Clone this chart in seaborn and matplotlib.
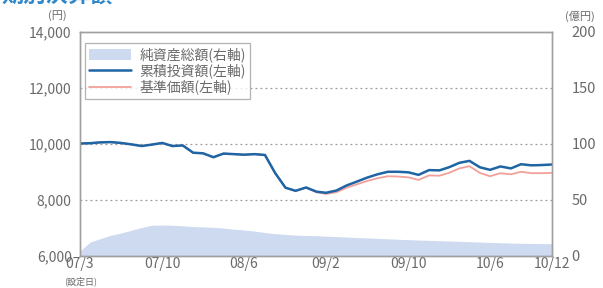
import pandas as pd
import matplotlib.pyplot as plt
from matplotlib.patches import Patch
from matplotlib.lines import Line2D
import seaborn as sns

# --- data (monthly) ---
dates = [pd.Timestamp("2007-03-01")] + list(pd.date_range("2007-03-31", "2010-12-31", freq="ME"))

cum_invest = [10000, 10010, 10040, 10050, 10020, 9970, 9910, 9960, 10020, 9910,
              9930, 9670, 9650, 9510, 9640, 9620, 9600, 9620, 9590, 8950,
              8420, 8310, 8430, 8280, 8240, 8320, 8500, 8640, 8780, 8900,
              8990, 8990, 8970, 8880, 9050, 9040, 9150, 9310, 9380, 9150,
              9060, 9180, 9110, 9260, 9220, 9230, 9250]

nav = [10000, 10010, 10040, 10050, 10020, 9970, 9910, 9960, 10020, 9910,
       9930, 9670, 9650, 9510, 9640, 9620, 9600, 9620, 9590, 8950,
       8420, 8310, 8420, 8260, 8200, 8260, 8420, 8540, 8660, 8760,
       8830, 8820, 8790, 8700, 8860, 8850, 8950, 9110, 9190, 8950,
       8830, 8940, 8900, 8990, 8940, 8940, 8950]

net_assets = [4, 12, 15, 18, 20, 22.5, 25, 27, 27.2, 27,
              26.5, 25.8, 25.5, 25.2, 24.5, 23.5, 22.8, 21.8, 20.5, 19.5,
              18.8, 18.2, 17.8, 17.7, 17.2, 16.9, 16.5, 16.0, 15.7, 15.3,
              14.9, 14.5, 14.1, 13.8, 13.5, 13.2, 12.9, 12.6, 12.3, 12.0,
              11.7, 11.4, 11.1, 10.9, 10.8, 10.6, 10.5]

tick_idx = [0, 8, 16, 24, 32, 40, 46]
tick_labels = ["07/3", "07/10", "08/6", "09/2", "09/10", "10/6", "10/12"]

df = pd.DataFrame({"date": dates, "cum": cum_invest, "nav": nav, "assets": net_assets})

# --- style ---
sns.set_style("white")
plt.rcParams["font.family"] = ["Noto Sans CJK JP", "DejaVu Sans"]

GREY = "#6a6a6a"
EDGE = "#a0a0a0"
BLUE = "#1f64a4"
PINK = "#f2a09a"
AREA = "#cddaf0"

fig = plt.figure(figsize=(6.03, 2.88), dpi=100)
ax = fig.add_axes([80 / 603, 1 - 255.5 / 288, 472 / 603, 224 / 288])
ax2 = ax.twinx()

# area on the right axis, kept behind the lines
ax2.fill_between(df["date"], 0, df["assets"], color=AREA, lw=0)
ax2.set_ylim(0, 200)
ax.set_zorder(ax2.get_zorder() + 1)
ax.patch.set_visible(False)

sns.lineplot(data=df, x="date", y="nav", ax=ax, color=PINK, lw=1.3)
sns.lineplot(data=df, x="date", y="cum", ax=ax, color=BLUE, lw=1.8)

ax.set_ylim(6000, 14000)
ax.set_xlim(dates[0], dates[-1])
ax.set_yticks([6000, 8000, 10000, 12000, 14000])
ax.set_yticklabels([f"{v:,}" for v in [6000, 8000, 10000, 12000, 14000]])
ax2.set_yticks([0, 50, 100, 150, 200])
ax.set_xlabel("")
ax.set_ylabel("")

for y in [8000, 10000, 12000]:
    ax.axhline(y, color="#9a9a9a", lw=0.9, ls=(0, (1.5, 2.5)), zorder=0)

ax.set_xticks([dates[i] for i in tick_idx])
ax.set_xticklabels(tick_labels)
ax.tick_params(axis="x", direction="in", length=5, width=0.8, color=GREY,
               labelsize=10, labelcolor=GREY, pad=1)
ax.tick_params(axis="y", length=0, labelsize=10, labelcolor=GREY, pad=6)
ax2.tick_params(axis="y", length=0, labelsize=10.5, labelcolor=GREY, pad=14)

for a in (ax, ax2):
    for s in a.spines.values():
        s.set_color(EDGE)
        s.set_linewidth(1.0)

# axis unit labels
fig.text(57 / 603, 1 - 16 / 288, "(円)", fontsize=8, color=GREY, ha="center", va="center")
fig.text(580 / 603, 1 - 16 / 288, "(億円)", fontsize=8, color=GREY, ha="center", va="center")
fig.text(81 / 603, 1 - 281 / 288, "(設定日)", fontsize=6.5, color=GREY, ha="center", va="center")

# title, cropped at the top edge as in the source
fig.text(2 / 603, 1 + 4 / 288, "期別決算額", fontsize=16, color="#2f86c8", fontweight="bold",
         ha="left", va="center")

handles = [
    Patch(facecolor=AREA, edgecolor="none"),
    Line2D([], [], color=BLUE, lw=1.8),
    Line2D([], [], color=PINK, lw=1.3),
]
labels = ["純資産総額(右軸)", "累積投資額(左軸)", "基準価額(左軸)"]
leg = ax.legend(handles, labels, loc="upper left", bbox_to_anchor=(0.005, 0.96),
                fontsize=10, frameon=True, fancybox=False, edgecolor=EDGE,
                handlelength=3.0, handleheight=0.8, handletextpad=0.6,
                labelspacing=0.1, borderpad=0.3, borderaxespad=0.2)
leg.get_frame().set_linewidth(0.9)
for t in leg.get_texts():
    t.set_color(GREY)

fig.savefig("out.png", dpi=100)
